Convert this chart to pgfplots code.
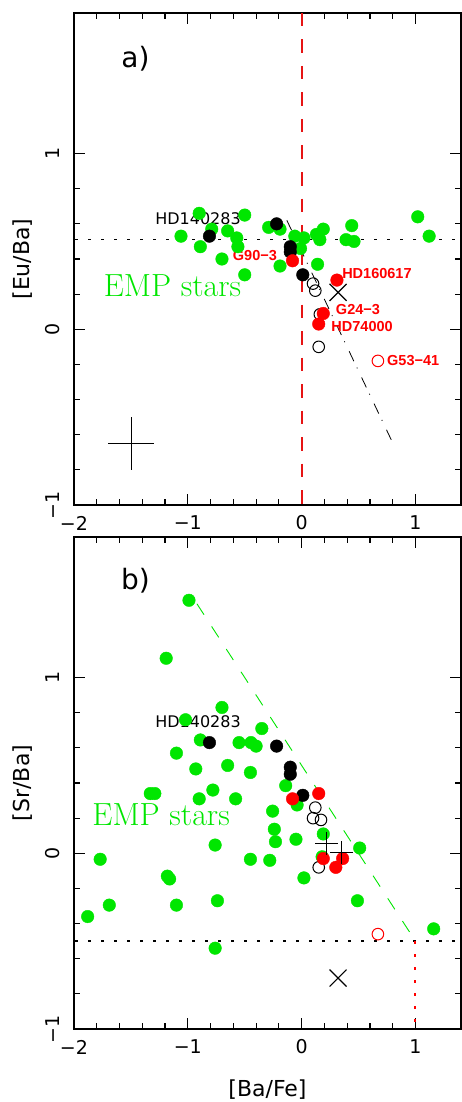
\documentclass[border=0pt]{standalone}
\usepackage{fontspec}
\setsansfont{DejaVu Sans}
\newfontfamily\lbold{Liberation Sans}
\usepackage{pgfplots}
\pgfplotsset{compat=1.18}
\definecolor{mygreen}{RGB}{0,230,0}
\definecolor{myred}{RGB}{255,0,0}
\definecolor{lred}{RGB}{230,20,20}
\pgfplotsset{
  panel/.style={
    scale only axis, width=387pt, height=492pt,
    xmin=-2, xmax=1.4, ymin=-1, ymax=1.8,
    axis line style={line width=1.3pt},
    tick pos=both, tick align=inside,
    xtick={-2,-1,0,1}, xticklabels={−2,−1,0,1},
    ytick={-1,0,1}, yticklabels={−1,0,1},
    minor x tick num=4, minor y tick num=4,
    major tick length=11pt, minor tick length=6pt,
    every tick/.style={black, line width=1.2pt},
    tick label style={font=\fontsize{19}{19}\sffamily},
    xticklabel style={anchor=center, yshift=-18pt},
    yticklabel style={xshift=-21pt, rotate=90, anchor=center},
    label style={font=\fontsize{22}{22}\sffamily},
    ylabel style={at={(axis description cs:-0.134,0.5)}, anchor=center},
    xlabel style={at={(axis description cs:0.5,-0.124)}, anchor=center},
    clip=false,
  },
  gpt/.style={only marks, mark=*, color=mygreen, mark size=6.3pt},
  bpt/.style={only marks, mark=*, color=black, mark size=6.3pt},
  rpt/.style={only marks, mark=*, color=myred, mark size=6.3pt},
  opt/.style={only marks, mark=o, color=black, mark size=5.8pt, mark options={line width=1pt}},
  ropt/.style={only marks, mark=o, color=myred, mark size=5.8pt, mark options={line width=1pt}},
  dotline/.style={black, no marks, line width=1.5pt, dash pattern=on 3pt off 10pt, dash phase=-14pt},
}
\tikzset{
  redlab/.style={text=myred, font=\fontsize{14.5}{14.5}\lbold\bfseries, inner sep=0pt},
  emp/.style={text=mygreen, font=\fontsize{32}{32}\rmfamily, inner sep=0pt, anchor=west},
  panlab/.style={font=\fontsize{28}{28}\sffamily, anchor=center},
}
\begin{document}
\begin{tikzpicture}
\useasboundingbox (0,0) rectangle (462pt,-1102pt);
% ---------------- panel a ----------------
\begin{axis}[panel, at={(74pt,-505pt)}, anchor=south west, ylabel={[Eu/Ba]}]
\addplot[lred, no marks, line width=2pt, dash pattern=on 13.5pt off 13pt] table {
x y
0 1.8
0 -1
};
\addplot[dotline] coordinates {(-2,0.51) (1.4,0.51)};
\addplot[black, no marks, line width=0.8pt, dash pattern=on 11pt off 7pt on 1pt off 10pt] coordinates {(-0.13,0.62) (0.81,-0.66)};
\addplot[gpt] coordinates {(-1.06,0.53)(-0.90,0.66)(-0.89,0.47)(-0.79,0.57)(-0.70,0.40)(-0.65,0.56)(-0.57,0.52)(-0.56,0.47)(-0.50,0.65)(-0.50,0.31)(-0.29,0.58)(-0.19,0.57)(-0.19,0.36)(-0.06,0.53)(0.02,0.52)(-0.01,0.46)(0.13,0.54)(0.19,0.57)(0.16,0.51)(0.14,0.37)(0.39,0.51)(0.44,0.59)(0.46,0.50)(1.02,0.64)(1.12,0.53)};
\addplot[bpt] coordinates {(-0.81,0.53)(-0.22,0.60)(-0.10,0.47)(-0.10,0.44)(0.01,0.31)};
\addplot[opt] coordinates {(0.10,0.26)(0.12,0.22)(0.16,0.085)(0.15,-0.10)};
\addplot[rpt] coordinates {(-0.08,0.39)(0.31,0.28)(0.19,0.09)(0.15,0.03)};
\addplot[ropt] coordinates {(0.67,-0.18)};
\addplot[only marks, mark=x, color=black, mark size=12pt, mark options={line width=1.2pt}] coordinates {(0.32,0.21)};
\addplot[black, mark=none, line width=0.8pt, error bars/.cd, x dir=both, x explicit, y dir=both, y explicit, error mark=none, error bar style={line width=0.8pt}] coordinates {(-1.5,-0.65) +- (0.2,0.15)};
\node[panlab] at (axis cs:-1.46,1.54) {a)};
\node[font=\fontsize{16}{16}\sffamily, anchor=center, inner sep=0pt] at (axis cs:-0.91,0.63) {HD140283};
\node[redlab, anchor=east] at (axis cs:-0.216,0.42) {G90−3};
\node[redlab, anchor=west] at (axis cs:0.355,0.32) {HD160617};
\node[redlab, anchor=west] at (axis cs:0.30,0.11) {G24−3};
\node[redlab, anchor=west] at (axis cs:0.26,0.013) {HD74000};
\node[redlab, anchor=west] at (axis cs:0.75,-0.176) {G53−41};
\node[emp] at (axis cs:-1.74,0.25) {EMP stars};
\end{axis}
% ---------------- panel b ----------------
\begin{axis}[panel, at={(74pt,-1029pt)}, anchor=south west, ylabel={[Sr/Ba]}, xlabel={[Ba/Fe]}]
\addplot[mygreen, no marks, line width=0.9pt, dash pattern=on 13pt off 14pt] coordinates {(-0.92,1.42) (1,-0.5)};
\addplot[dotline] coordinates {(-2,-0.5) (1.4,-0.5)};
\addplot[red, no marks, line width=2pt, dash pattern=on 2.5pt off 10.5pt] table {
x y
1 -0.5
1 -1
};
\addplot[gpt] coordinates {(-0.99,1.44)(-1.19,1.11)(-0.70,0.83)(-1.02,0.76)(-0.35,0.71)(-0.89,0.645)(-0.55,0.63)(-0.445,0.63)(-0.40,0.61)(-1.10,0.57)(-0.65,0.50)(-0.93,0.48)(-0.45,0.46)(-0.14,0.385)(-0.78,0.36)(-1.33,0.34)(-1.29,0.34)(-0.90,0.31)(-0.58,0.31)(-0.04,0.275)(-0.255,0.24)(-0.24,0.137)(-0.23,0.066)(-0.05,0.08)(0.19,0.11)(-0.76,0.047)(0.51,0.03)(-1.77,-0.034)(-0.45,-0.034)(-0.28,-0.04)(0.18,-0.02)(-1.18,-0.13)(-1.16,-0.146)(0.02,-0.14)(-1.69,-0.295)(-1.10,-0.295)(-0.74,-0.27)(0.49,-0.27)(-1.88,-0.36)(1.16,-0.43)(-0.76,-0.54)};
\addplot[bpt] coordinates {(-0.81,0.63)(-0.22,0.61)(-0.10,0.49)(-0.10,0.45)(0.01,0.33)};
\addplot[opt] coordinates {(0.12,0.26)(0.10,0.20)(0.17,0.19)(0.15,-0.08)};
\addplot[rpt] coordinates {(-0.08,0.31)(0.15,0.34)(0.19,-0.03)(0.30,-0.08)(0.36,-0.03)};
\addplot[ropt] coordinates {(0.67,-0.46)};
\addplot[only marks, mark=+, color=black, mark size=11.5pt, mark options={line width=1.2pt}] coordinates {(0.22,0.057)(0.35,0.003)};
\addplot[only marks, mark=x, color=black, mark size=12pt, mark options={line width=1.2pt}] coordinates {(0.32,-0.71)};
\node[panlab] at (axis cs:-1.46,1.55) {b)};
\node[font=\fontsize{16}{16}\sffamily, anchor=center, inner sep=0pt] at (axis cs:-0.91,0.75) {HD140283};
\node[emp] at (axis cs:-1.84,0.22) {EMP stars};
\end{axis}
\end{tikzpicture}
\end{document}
